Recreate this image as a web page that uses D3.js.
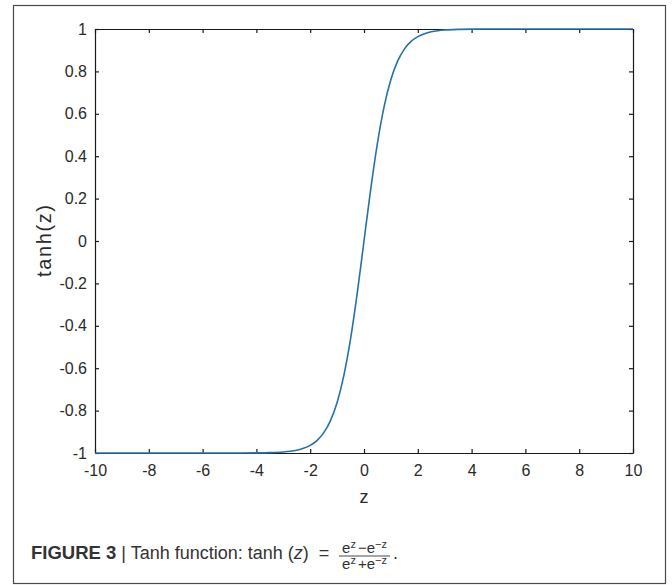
<!DOCTYPE html>
<html>
<head>
<meta charset="utf-8">
<script src="https://cdn.jsdelivr.net/npm/d3@7/dist/d3.min.js"></script>
<style>
  html, body { margin: 0; padding: 0; background: #fff; }
  svg { display: block; font-family: "Liberation Sans", Arial, Helvetica, sans-serif; }
</style>
</head>
<body>
<svg id="chart" width="672" height="585"></svg>
<script>
// Sampled points of the curve
const zValues = [-10, -6, -5, -4, -3.5, -3, -2.75, -2.5, -2.25, -2, -1.75, -1.5, -1.25, -1, -0.75, -0.5, -0.25,
                 0, 0.25, 0.5, 0.75, 1, 1.25, 1.5, 1.75, 2, 2.25, 2.5, 2.75, 3, 3.5, 4, 5, 6, 10];
const tanhValues = [-1, -1, -0.9999, -0.9993, -0.9982, -0.9951, -0.9919, -0.9866, -0.978, -0.964, -0.9414, -0.9051, -0.8483, -0.7616, -0.6351, -0.4621, -0.2449,
                    0, 0.2449, 0.4621, 0.6351, 0.7616, 0.8483, 0.9051, 0.9414, 0.964, 0.978, 0.9866, 0.9919, 0.9951, 0.9982, 0.9993, 0.9999, 1, 1];

const xTicks = [-10, -8, -6, -4, -2, 0, 2, 4, 6, 8, 10];
const yTicks = [-1, -0.8, -0.6, -0.4, -0.2, 0, 0.2, 0.4, 0.6, 0.8, 1];

const svg = d3.select("#chart");

// Figure frame
svg.append("rect")
  .attr("x", 13.5).attr("y", 5.5)
  .attr("width", 652).attr("height", 578)
  .attr("fill", "none").attr("stroke", "#4a4a4a").attr("stroke-width", 1.2);

const plot = { left: 95, right: 633, top: 29, bottom: 453 };
const x = d3.scaleLinear().domain([-10, 10]).range([plot.left, plot.right]);
const y = d3.scaleLinear().domain([-1, 1]).range([plot.bottom, plot.top]);

const fmt = d => (d === 0 ? "0" : String(d));
const tickLen = 4;

// Bottom axis with labels, ticks pointing inward
const gx = svg.append("g").attr("transform", `translate(0,${plot.bottom})`)
  .call(d3.axisBottom(x).tickValues(xTicks).tickFormat(fmt).tickSizeInner(-tickLen).tickSizeOuter(0).tickPadding(12));
// Left axis with labels
const gy = svg.append("g").attr("transform", `translate(${plot.left},0)`)
  .call(d3.axisLeft(y).tickValues(yTicks).tickFormat(fmt).tickSizeInner(-tickLen).tickSizeOuter(0).tickPadding(8));
// Top and right axes: ticks only
const gt = svg.append("g").attr("transform", `translate(0,${plot.top})`)
  .call(d3.axisTop(x).tickValues(xTicks).tickFormat("").tickSizeInner(-tickLen).tickSizeOuter(0));
const gr = svg.append("g").attr("transform", `translate(${plot.right},0)`)
  .call(d3.axisRight(y).tickValues(yTicks).tickFormat("").tickSizeInner(-tickLen).tickSizeOuter(0));

[gx, gy, gt, gr].forEach(g => {
  g.select(".domain").attr("stroke", "#1a1a1a").attr("stroke-width", 1.2);
  g.selectAll(".tick line").attr("stroke", "#1a1a1a").attr("stroke-width", 1.2);
  g.selectAll(".tick text").attr("fill", "#2a2a2a").attr("font-size", 16)
    .attr("font-family", "'Liberation Sans', Arial, Helvetica, sans-serif");
});

// Curve
const line = d3.line()
  .x((d, i) => x(zValues[i]))
  .y(d => y(d))
  .curve(d3.curveMonotoneX);
svg.append("path")
  .datum(tanhValues)
  .attr("d", line)
  .attr("fill", "none")
  .attr("stroke", "#2472aa")
  .attr("stroke-width", 1.6);

// Axis titles
svg.append("text")
  .attr("x", x(0)).attr("y", 503)
  .attr("text-anchor", "middle").attr("font-size", 18).attr("fill", "#2a2a2a")
  .text("z");
svg.append("text")
  .attr("transform", `translate(51,241) rotate(-90)`)
  .attr("text-anchor", "middle").attr("font-size", 20).attr("fill", "#2a2a2a")
  .attr("textLength", 72).attr("lengthAdjust", "spacing")
  .text("tanh(z)");

// Caption
const cap = svg.append("text")
  .attr("x", 31).attr("y", 559)
  .attr("font-size", 18).attr("fill", "#333");
cap.append("tspan").attr("font-weight", "bold").attr("font-size", 18.5).text("FIGURE 3");
cap.append("tspan").attr("dx", 5).text("|");
cap.append("tspan").text(" Tanh function: tanh (");
cap.append("tspan").attr("font-style", "italic").text("z");
cap.append("tspan").text(")");
cap.append("tspan").attr("dx", 10).text("=");

// Fraction (e^z − e^−z) / (e^z + e^−z)
const fx = 339, fw = 51, barY = 556;
svg.append("line")
  .attr("x1", fx).attr("x2", fx + fw).attr("y1", barY).attr("y2", barY)
  .attr("stroke", "#333").attr("stroke-width", 0.9);
function fracRow(yy, op) {
  const t = svg.append("text").attr("x", fx + fw / 2).attr("y", yy)
    .attr("text-anchor", "middle").attr("font-size", 15).attr("fill", "#333");
  t.append("tspan").text("e");
  t.append("tspan").attr("font-size", 11).attr("dy", -5).text("z");
  t.append("tspan").attr("dy", 5).attr("dx", 2).text(op);
  t.append("tspan").text("e");
  t.append("tspan").attr("font-size", 11).attr("dy", -5).text("−z");
}
fracRow(553, "−");
fracRow(569, "+");
svg.append("text").attr("x", fx + fw + 3).attr("y", 559)
  .attr("font-size", 18).attr("fill", "#333").text(".");
</script>
</body>
</html>
